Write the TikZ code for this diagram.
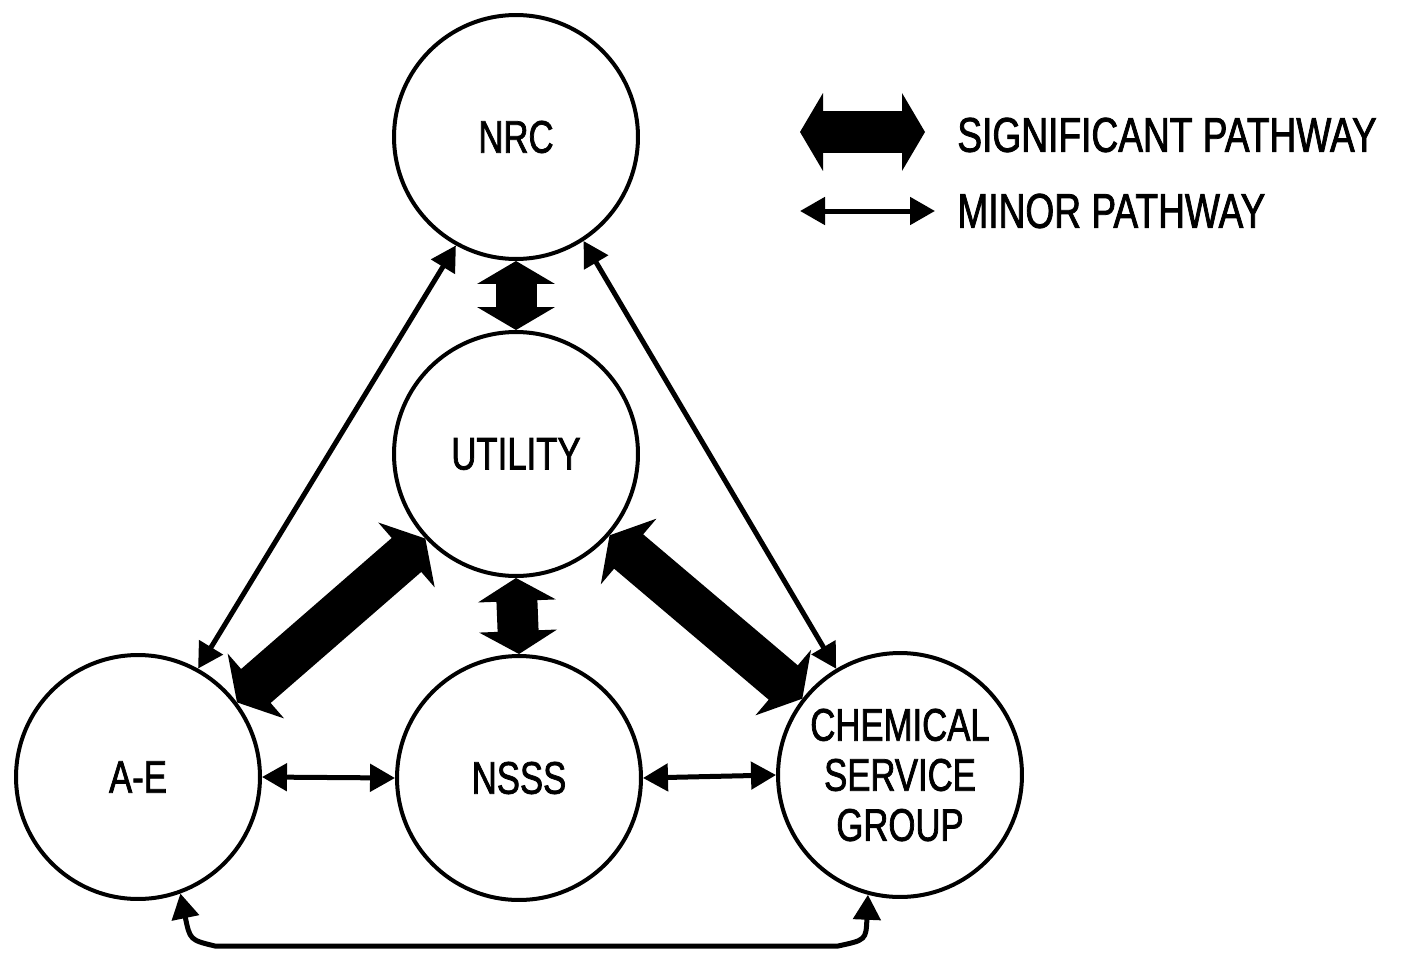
\documentclass[tikz,border=0pt]{standalone}
\usepackage{fontspec}
\setmainfont[FakeStretch=0.76,FakeBold=1.6]{Liberation Sans}
\usetikzlibrary{arrows.meta}
\begin{document}
\begin{tikzpicture}[x=0.02cm,y=-0.02cm,
  org/.style={circle,draw,line width=0.08cm,minimum size=4.88cm,inner sep=0pt,
    font=\fontsize{26}{28.5}\selectfont,align=center},
  minor/.style={line width=0.1cm,
    {Triangle[length=0.5cm,width=0.54cm]}-{Triangle[length=0.5cm,width=0.54cm]}},
  major/.style={line width=0.82cm,
    {Triangle[length=0.46cm,width=1.54cm]}-{Triangle[length=0.46cm,width=1.54cm]}},
  majordiag/.style={line width=0.9cm,
    {Triangle[length=0.5cm,width=1.7cm]}-{Triangle[length=0.5cm,width=1.7cm]}},
  legtext/.style={anchor=west,inner sep=0pt,font=\fontsize{27.8}{30}\selectfont}
]
\useasboundingbox (0,0) rectangle (1412,953);

% organisations
\node[org] (nrc)  at (516,137) {NRC};
\node[org] (util) at (516,454) {UTILITY};
\node[org] (ae)   at (138,777) {A-E};
\node[org] (nsss) at (519,778) {NSSS};
\node[org] (csg)  at (900,775) {CHEMICAL\\SERVICE\\GROUP};

% significant pathways
\draw[major] (nrc.south) -- (util.north);
\draw[major] (util.south) -- (nsss.north);
\draw[majordiag] (util.223) -- (ae.37);
\draw[majordiag] (util.319) -- (csg.142);

% minor pathways
\draw[minor] (nrc.241) -- (ae.61);
\draw[minor] (nrc.303) -- (csg.121);
\draw[minor] (ae.east) -- (nsss.west);
\draw[minor] (nsss.east) -- (csg.west);
\coordinate (b1) at (215,946);
\coordinate (b2) at (838,946);
\draw[minor] (ae.290) .. controls (190,940) .. (b1) -- (b2) .. controls (866,940) .. (csg.255);

% legend
\coordinate (sigL) at (800,132);
\coordinate (sigR) at (925,132);
\draw[major,line width=0.86cm] (sigL) -- (sigR);
\node[legtext] (sigtxt) at (957,135) {SIGNIFICANT PATHWAY};
\coordinate (minL) at (800,211);
\coordinate (minR) at (935,211);
\draw[minor] (minL) -- (minR);
\node[legtext] (mintxt) at (957,211) {MINOR PATHWAY};
\end{tikzpicture}
\end{document}
